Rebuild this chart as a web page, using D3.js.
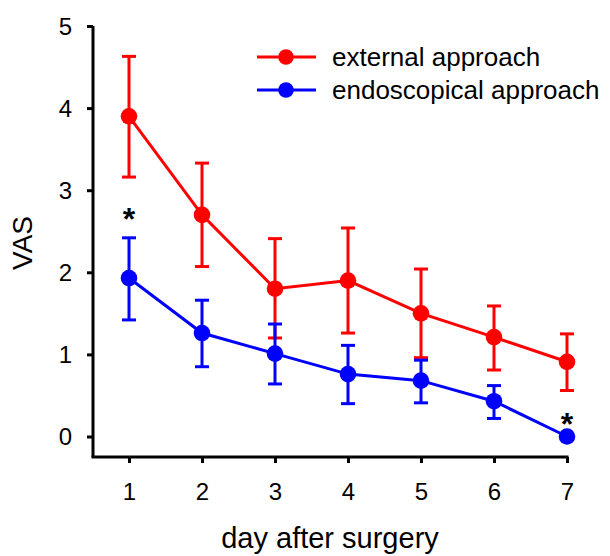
<!DOCTYPE html>
<html>
<head>
<meta charset="utf-8">
<script src="https://cdn.jsdelivr.net/npm/d3@7"></script>
<style>
  html, body { margin: 0; padding: 0; background: #fff; }
  svg text { font-family: "Liberation Sans", Arial, Helvetica, sans-serif; fill: #000; }
</style>
</head>
<body>
<svg id="chart" width="610" height="556"></svg>
<script>
// Days after surgery and VAS pain scores (mean with lower/upper error limits)
const days = [1, 2, 3, 4, 5, 6, 7];
const yTicks = [0, 1, 2, 3, 4, 5];

const externalMean  = [3.90, 2.70, 1.80, 1.90, 1.50, 1.21, 0.91];
const externalLower = [3.16, 2.07, 1.20, 1.26, 0.96, 0.81, 0.56];
const externalUpper = [4.63, 3.33, 2.41, 2.54, 2.04, 1.59, 1.25];

const endoMean  = [1.93, 1.26, 1.01, 0.76, 0.68, 0.43, 0.00];
const endoLower = [1.42, 0.85, 0.64, 0.40, 0.41, 0.22, 0.00];
const endoUpper = [2.42, 1.66, 1.37, 1.11, 0.93, 0.62, 0.00];

const seriesNames = ["external approach", "endoscopical approach"];
const seriesColors = ["#ff0000", "#0000ff"];

// Days marked as significant
const significantDays = [1, 7];

const svg = d3.select("#chart");

const x = d3.scaleLinear().domain([1, 7]).range([129, 567]);
const y = d3.scaleLinear().domain([0, 5]).range([436.5, 26]);

const axisLeftX = 93;
const axisBottomY = 457;

// Axes
const yAxis = svg.append("g")
  .attr("transform", `translate(${axisLeftX},0)`)
  .call(d3.axisLeft(y).tickValues(yTicks).tickFormat(d3.format("d")).tickSize(6).tickSizeOuter(0).tickPadding(15));
yAxis.select(".domain").attr("d", `M0,${y(5)}V${axisBottomY}`).attr("stroke-width", 3).attr("stroke", "#000");
yAxis.selectAll(".tick line").attr("stroke-width", 3).attr("stroke", "#000");
yAxis.selectAll(".tick text").attr("font-size", 24).attr("font-family", "Liberation Sans, Arial, sans-serif").attr("fill", "#000").attr("dy", "0.34em");

const xAxis = svg.append("g")
  .attr("transform", `translate(0,${axisBottomY})`)
  .call(d3.axisBottom(x).tickValues(days).tickFormat(d3.format("d")).tickSize(6).tickSizeOuter(0).tickPadding(20));
xAxis.select(".domain").attr("d", `M${axisLeftX - 1.5},0H${x(7) + 1.5}`).attr("stroke-width", 3).attr("stroke", "#000");
xAxis.selectAll(".tick line").attr("stroke-width", 3).attr("stroke", "#000");
xAxis.selectAll(".tick text").attr("font-size", 24).attr("font-family", "Liberation Sans, Arial, sans-serif").attr("fill", "#000");

// Axis titles
svg.append("text")
  .attr("x", 330).attr("y", 548)
  .attr("text-anchor", "middle")
  .attr("font-size", 29)
  .text("day after surgery");

svg.append("text")
  .attr("transform", "translate(32,243) rotate(-90)")
  .attr("text-anchor", "middle")
  .attr("font-size", 28)
  .text("VAS");

// Series
const series = [
  { mean: externalMean, lower: externalLower, upper: externalUpper },
  { mean: endoMean, lower: endoLower, upper: endoUpper }
];

const line = d3.line().x(d => x(d.day)).y(d => y(d.v));
const capHalf = 7;

series.forEach((s, i) => {
  const color = seriesColors[i];
  const pts = days.map((d, j) => ({ day: d, v: s.mean[j], lo: s.lower[j], hi: s.upper[j] }));
  const g = svg.append("g");

  g.append("path")
    .datum(pts)
    .attr("d", line)
    .attr("fill", "none")
    .attr("stroke", color)
    .attr("stroke-width", 3);

  const bars = g.selectAll(".err").data(pts.filter(p => p.hi > p.lo)).join("g");
  bars.append("line")
    .attr("x1", p => x(p.day)).attr("x2", p => x(p.day))
    .attr("y1", p => y(p.hi)).attr("y2", p => y(p.lo))
    .attr("stroke", color).attr("stroke-width", 3);
  bars.append("line")
    .attr("x1", p => x(p.day) - capHalf).attr("x2", p => x(p.day) + capHalf)
    .attr("y1", p => y(p.hi)).attr("y2", p => y(p.hi))
    .attr("stroke", color).attr("stroke-width", 3);
  bars.append("line")
    .attr("x1", p => x(p.day) - capHalf).attr("x2", p => x(p.day) + capHalf)
    .attr("y1", p => y(p.lo)).attr("y2", p => y(p.lo))
    .attr("stroke", color).attr("stroke-width", 3);

  g.selectAll("circle").data(pts).join("circle")
    .attr("cx", p => x(p.day)).attr("cy", p => y(p.v))
    .attr("r", 8.3)
    .attr("fill", color);
});

// Significance asterisks: sit above the endoscopical error bar, or above the
// marker itself where the bar has zero length
svg.selectAll(".sig").data(significantDays).join("text")
  .attr("class", "sig")
  .attr("x", d => x(d))
  .attr("y", d => {
    const j = days.indexOf(d);
    const top = endoUpper[j] > endoMean[j] ? y(endoUpper[j]) - 8 : y(endoMean[j]) - 2;
    return top;
  })
  .attr("text-anchor", "middle")
  .attr("font-size", 32)
  .attr("font-weight", "bold")
  .text("*");

// Legend
const legend = svg.append("g");
const legendRows = [57, 90];
seriesNames.forEach((name, i) => {
  const ly = legendRows[i];
  legend.append("line")
    .attr("x1", 257).attr("x2", 316)
    .attr("y1", ly).attr("y2", ly)
    .attr("stroke", seriesColors[i]).attr("stroke-width", 3);
  legend.append("circle")
    .attr("cx", 286).attr("cy", ly).attr("r", 7.8)
    .attr("fill", seriesColors[i]);
  legend.append("text")
    .attr("x", 332).attr("y", ly + 9)
    .attr("font-size", 26)
    .text(name);
});
</script>
</body>
</html>
